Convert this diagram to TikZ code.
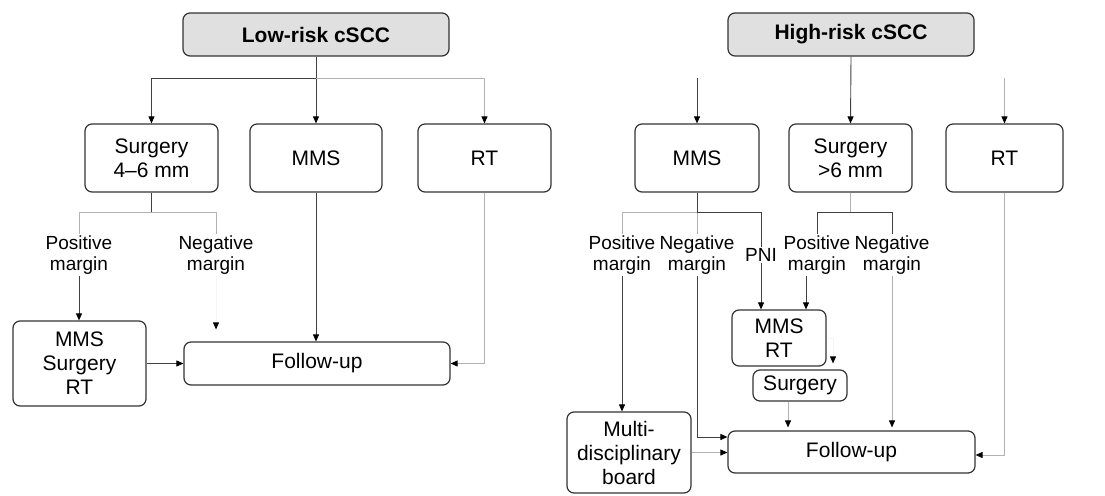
\documentclass[tikz,border=0pt]{standalone}
\usepackage{fontspec}
\setmainfont{Liberation Sans}
\usetikzlibrary{arrows.meta}
\begin{document}
\begin{tikzpicture}[x=1pt,y=-1pt,
    box/.style={draw=black!80, line width=1.2pt, rounded corners=7pt, align=center,
      inner sep=0pt, font=\fontsize{21}{24}\selectfont},
    head/.style={box, fill=black!12, font=\fontsize{21}{24}\selectfont\bfseries},
    lbl/.style={align=center, inner sep=1pt, font=\fontsize{19}{21}\selectfont},
    arr/.style={-{Triangle[length=7pt,width=6pt,color=black]}},
    faint/.style={draw=black!30},
    ghost/.style={draw=black!4}]
  \useasboundingbox (0,0) rectangle (1105,495);
  \path
    (316,34.5) node[head, minimum width=266pt, minimum height=43pt] (lowrisk){Low-risk cSCC}
    (151.5,158) node[box, minimum width=133pt, minimum height=68pt] (surg4){Surgery\\4–6 mm}
    (316,158) node[box, minimum width=132pt, minimum height=68pt] (mmsL){MMS}
    (484.5,158) node[box, minimum width=133pt, minimum height=68pt] (rtL){RT}
    (79,255) node[lbl] (posL){Positive\\margin}
    (216,255) node[lbl] (negL){Negative\\margin}
    (79.5,363.5) node[box, minimum width=133pt, minimum height=85pt] (mstL){MMS\\Surgery\\RT}
    (317,363.5) node[box, minimum width=266pt, minimum height=43pt] (fuL){Follow-up}
    (851,34.5) node[head, minimum width=246pt, minimum height=43pt] (highrisk){High-risk cSCC}
    (697,158) node[box, minimum width=124pt, minimum height=68pt] (mmsR){MMS}
    (850.5,158) node[box, minimum width=123pt, minimum height=68pt] (surg6){Surgery\\>6 mm}
    (1004.5,158) node[box, minimum width=117pt, minimum height=68pt] (rtR){RT}
    (622,255) node[lbl] (posR1){Positive\\margin}
    (697,255) node[lbl] (negR1){Negative\\margin}
    (761,255) node[lbl] (pni){PNI}
    (817,255) node[lbl] (posR2){Positive\\margin}
    (892,255) node[lbl] (negR2){Negative\\margin}
    (779,338) node[box, minimum width=94pt, minimum height=56pt] (mmsrt){MMS\\RT}
    (800,385.5) node[box, minimum width=94pt, minimum height=31pt] (surgR){Surgery}
    (629,452.5) node[box, minimum width=124pt, minimum height=81pt] (board){Multi-\\disciplinary\\board}
    (851.5,452) node[box, minimum width=247pt, minimum height=42pt] (fuR){Follow-up};
  \coordinate (splitL) at (316,78);
  \coordinate (splitS4) at (151.5,212);
  \coordinate (splitM) at (697,212);
  \coordinate (splitS6) at (850.5,212);
  \coordinate (topM) at (697,78);
  \coordinate (topR) at (1004.5,78);
  \begin{scope}[line width=0.9pt, draw=black!75]
    \draw (lowrisk.south) to (splitL);
    \draw[arr] (splitL) -| (surg4.north);
    \draw[arr] (lowrisk.south) to (mmsL.north);
    \draw[arr, faint] (splitL) -| (rtL.north);
    \draw (surg4.south) to (splitS4);
    \draw[faint] (splitS4) -| (posL.north);
    \draw[faint] (splitS4) -| (negL.north);
    \draw[arr] (posL.south) to (posL.south |- mstL.north);
    \draw[arr, ghost] (negL.south) to ([yshift=12pt]negL.south |- fuL.north);
    \draw[arr] (mmsL.south) to (mmsL.south |- fuL.north);
    \draw[arr, faint] (rtL.south) |- (fuL.east);
    \draw[arr] (mstL.east) to (fuL.west);
    \draw[arr] (highrisk.south) to (surg6.north);
    \draw[arr] (topM) to (mmsR.north);
    \draw[arr, faint] (topR) to (rtR.north);
    \draw (mmsR.south) to (splitM);
    \draw[faint] (splitM) -| (posR1.north);
    \draw[faint] (splitM) to (negR1.north);
    \draw (splitM) -| (pni.north);
    \draw[faint] (surg6.south) to (splitS6);
    \draw (splitS6) -| (posR2.north);
    \draw (splitS6) -| (negR2.north);
    \draw[arr] (posR1.south) to (posR1.south |- board.north);
    \draw[arr] (negR1.south) |- ([yshift=15pt]fuR.west);
    \draw[arr, faint] (board.east) to (board.east -| fuR.west);
    \draw[arr] (pni.south) to (pni.south |- mmsrt.north);
    \draw[arr] ([xshift=-11pt]posR2.south) to ([xshift=-11pt]posR2.south |- mmsrt.north);
    \draw[arr, ghost] (mmsrt.east) -| ([xshift=33pt,yshift=6pt]surgR.north);
    \draw[arr, faint] ([xshift=-12pt]surgR.south) to ([xshift=-12pt,yshift=3pt]surgR.south |- fuR.north);
    \draw[arr, faint] (negR2.south) to ([yshift=3pt]negR2.south |- fuR.north);
    \draw[arr, faint] (rtR.south) |- ([yshift=-3pt]fuR.east);
  \end{scope}
\end{tikzpicture}
\end{document}
